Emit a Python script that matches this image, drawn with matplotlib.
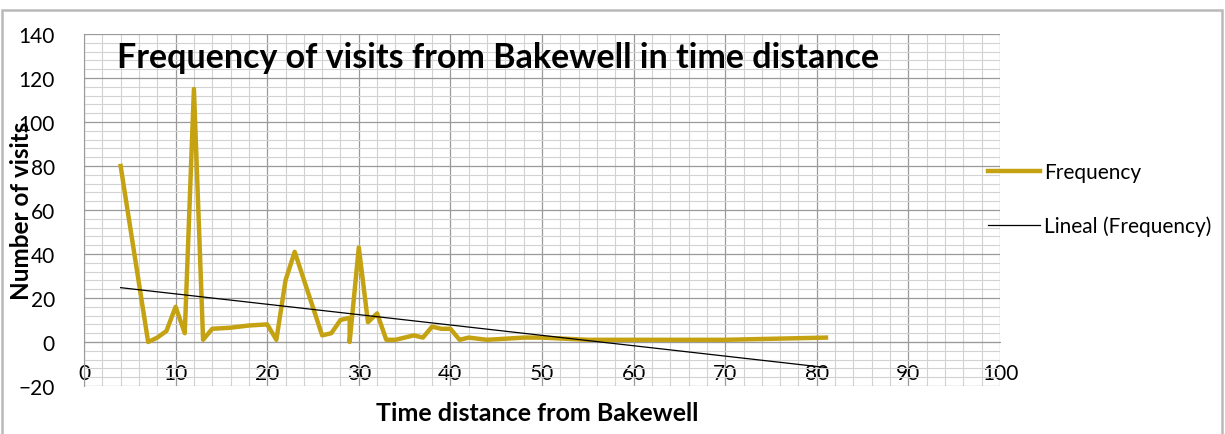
import matplotlib
matplotlib.use('Agg')
import matplotlib.pyplot as plt
from matplotlib.patches import Rectangle
from matplotlib.ticker import MultipleLocator

plt.rcParams['font.family'] = ['Lato', 'DejaVu Sans']

# Data
time_distance = [4, 7, 8, 9, 10, 11, 12, 13, 14, 16, 18, 20, 21, 22, 23, 26, 27, 28, 29, 29,
                 30, 31, 32, 33, 34, 36, 37, 38, 39, 40, 41, 42, 44, 48, 50, 55, 60, 70, 81]
frequency = [80, 0, 2, 5, 16, 4, 115, 1, 6, 6.5, 7.5, 8, 1, 28, 41, 3, 4, 10, 11, 0,
             43, 9, 13, 1, 1, 3, 2, 7, 6, 6, 1, 2, 1, 2, 2, 1, 1, 1, 2]
trend_x = [4, 81]
trend_y = [24.7, -11.6]

fig = plt.figure(figsize=(12.25, 4.35), dpi=100)
W, H = 1225, 435
ax = fig.add_axes([84 / W, 48 / H, 916 / W, 352 / H])

# chart border (bottom edge falls outside the picture)
fig.patches.append(Rectangle((2 / W, -5 / H), 1220 / W, 429 / H, transform=fig.transFigure,
                             fill=False, edgecolor='#b9b9b9', linewidth=1.8))

ax.plot(time_distance, frequency, color='#c5a212', linewidth=3.2, solid_joinstyle='round',
        label='Frequency', zorder=3)
ax.plot(trend_x, trend_y, color='black', linewidth=0.9, label='Lineal (Frequency)', zorder=4)

ax.set_xlim(0, 100)
ax.set_ylim(-20, 140)
ax.xaxis.set_major_locator(MultipleLocator(10))
ax.xaxis.set_minor_locator(MultipleLocator(2))
ax.yaxis.set_major_locator(MultipleLocator(20))
ax.yaxis.set_minor_locator(MultipleLocator(4))
ax.grid(which='major', color='#9a9a9a', linewidth=0.9)
ax.grid(which='minor', color='#d2d2d2', linewidth=0.8)
ax.set_axisbelow(True)

for s in ['top', 'right']:
    ax.spines[s].set_visible(False)
ax.spines['bottom'].set_position(('data', 0))
ax.spines['bottom'].set_color('#9a9a9a')
ax.spines['left'].set_color('#9a9a9a')
ax.tick_params(which='both', length=0)
ax.tick_params(axis='x', labelsize=15, pad=15)
ax.tick_params(axis='y', labelsize=15, pad=21)

ax.set_ylabel('Number of visits', fontsize=17.5, fontweight='bold')
ax.yaxis.set_label_coords(-0.056, 0.5)
ax.set_xlabel('Time distance from Bakewell', fontsize=18, fontweight='bold')
ax.xaxis.set_label_coords(0.495, -0.042)

ax.text(3.6, 129.5, 'Frequency of visits from Bakewell in time distance',
        fontsize=24.5, fontweight='bold', ha='left', va='center')

ax.legend(loc='center left', bbox_to_anchor=(0.966, 0.53), frameon=False, fontsize=15,
          handlelength=2.5, handletextpad=0.2, labelspacing=1.6)

fig.savefig('out.png', dpi=100)
